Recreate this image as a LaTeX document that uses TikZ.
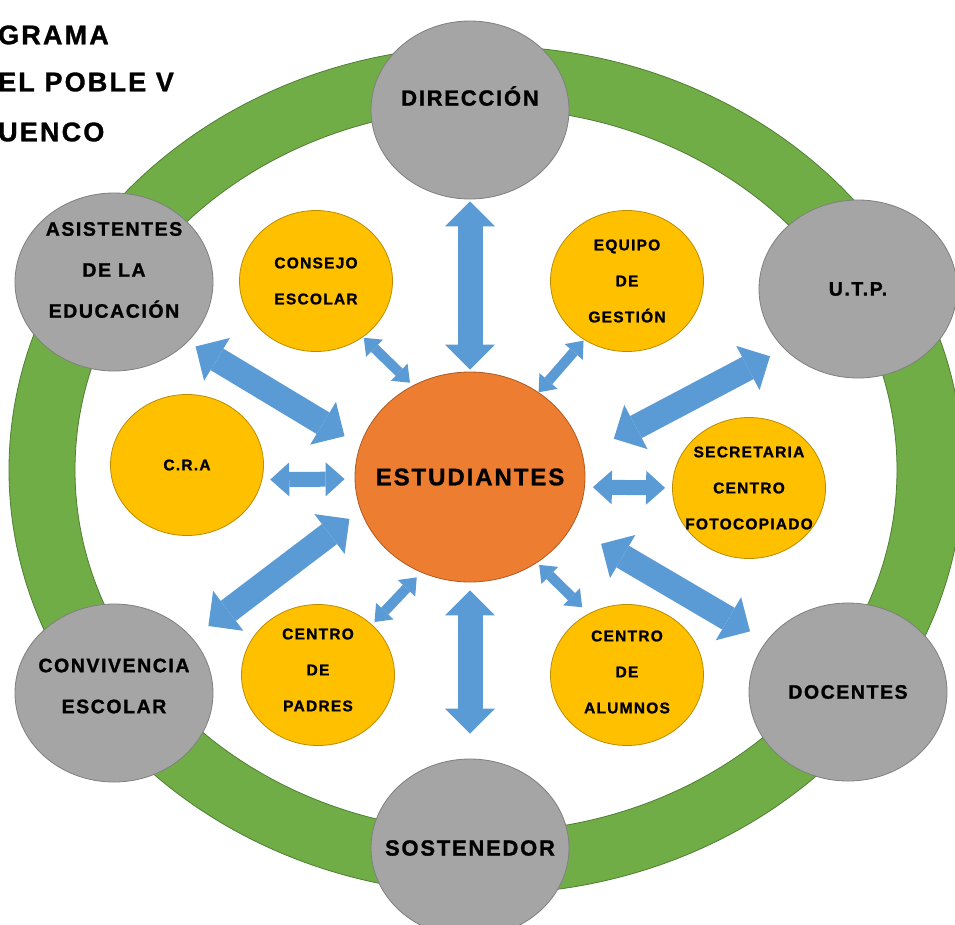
\documentclass[tikz,border=0pt]{standalone}
\usepackage{fontspec}
\usepackage{tikz}
\usetikzlibrary{shapes.geometric}
\usetikzlibrary{arrows.meta}
\newfontfamily\lblfont{Liberation Sans}[LetterSpace=8, UprightFont={* Bold}, FakeBold=1.2]
\definecolor{ringgreen}{HTML}{70AD47}
\definecolor{ringedge}{HTML}{507E32}
\definecolor{grayfill}{HTML}{A5A5A5}
\definecolor{grayedge}{HTML}{7F7F7F}
\definecolor{yellowfill}{HTML}{FFC000}
\definecolor{yellowedge}{HTML}{BC8C00}
\definecolor{orangefill}{HTML}{ED7D31}
\definecolor{orangeedge}{HTML}{AE5A21}
\definecolor{arrowblue}{HTML}{5B9BD5}
\tikzset{
  ringband/.style={fill=ringgreen, draw=ringedge, line width=0.8pt, even odd rule},
  grayunit/.style={ellipse, fill=grayfill, draw=grayedge, line width=0.8pt, minimum width=198pt, minimum height=178pt, inner sep=0pt},
  yellowunit/.style={ellipse, fill=yellowfill, draw=yellowedge, line width=0.8pt, minimum width=153pt, minimum height=141pt, inner sep=0pt},
  centerunit/.style={ellipse, fill=orangefill, draw=orangeedge, line width=0.8pt, minimum width=230pt, minimum height=210pt, inner sep=0pt},
  graytxt/.style={font=\lblfont\fontsize{19.5}{41}\selectfont, align=center},
  largetxt/.style={font=\lblfont\fontsize{22}{41}\selectfont, align=center},
  yellowtxt/.style={font=\lblfont\fontsize{15.5}{36}\selectfont, align=center},
  centertxt/.style={font=\lblfont\fontsize{24}{30}\selectfont, align=center},
  titletxt/.style={font=\lblfont\fontsize{27}{30}\selectfont, anchor=west, inner sep=0pt},
  blockarrow/.style n args={3}{draw=arrowblue, line width=#1,
    arrows={Triangle[length=#3, width=#2, line width=0pt]-Triangle[length=#3, width=#2, line width=0pt]}},
  bigarrow/.style={blockarrow={25pt}{50pt}{25pt}},
  midarrow/.style={blockarrow={15pt}{34pt}{19pt}},
  smallarrow/.style={blockarrow={10pt}{24pt}{15pt}}
}
\begin{document}
\begin{tikzpicture}[x=1pt, y=-1pt]
    \fill[white] (0, 0) rectangle (955, 924);
    \useasboundingbox (0, 0) rectangle (955, 924);
    \path[ringband] (486, 470) ellipse [x radius=477, y radius=424] (486, 470) ellipse [x radius=411, y radius=362];

    \node[titletxt] (title1) at (-2, 35) {GRAMA};
    \node[titletxt] (title2) at (-2, 82) {EL POBLE V};
    \node[titletxt] (title3) at (-2, 132) {UENCO};

    \node[grayunit, label={[largetxt, yshift=14pt]center:DIRECCIÓN}] (dir) at (470, 110) {};
    \node[grayunit, label={[graytxt]center:U.T.P.}] (utp) at (858, 289) {};
    \node[grayunit, label={[graytxt]center:DOCENTES}] (doc) at (848, 692) {};
    \node[grayunit, label={[largetxt]center:SOSTENEDOR}] (sos) at (470, 848) {};
    \node[grayunit, label={[graytxt, yshift=7pt]center:CONVIVENCIA\\ESCOLAR}] (conv) at (114, 693) {};
    \node[grayunit, label={[graytxt, yshift=12pt]center:ASISTENTES\\DE LA\\EDUCACIÓN}] (asis) at (114, 282) {};

    \node[yellowunit, label={[yellowtxt]center:CONSEJO\\ESCOLAR}] (consejo) at (316, 281) {};
    \node[yellowunit, label={[yellowtxt]center:EQUIPO\\DE\\GESTIÓN}] (equipo) at (627, 281) {};
    \node[yellowunit, label={[yellowtxt]center:C.R.A}] (cra) at (187, 465) {};
    \node[yellowunit, label={[yellowtxt]center:SECRETARIA\\CENTRO\\FOTOCOPIADO}] (secre) at (749, 488) {};
    \node[yellowunit, label={[yellowtxt, yshift=5pt]center:CENTRO\\DE\\PADRES}] (padres) at (318, 675) {};
    \node[yellowunit, label={[yellowtxt, yshift=3pt]center:CENTRO\\DE\\ALUMNOS}] (alumnos) at (627, 675) {};

    \node[centerunit, label={[centertxt]center:ESTUDIANTES}] (est) at (470, 477) {};

    \draw[bigarrow, shorten <=2pt, shorten >=2pt] (dir.south) -- (est.north);
    \draw[bigarrow, shorten <=25pt, shorten >=8pt] (sos.north) -- (est.south);
    \draw[bigarrow, shorten <=9pt, shorten >=18pt] (asis.-39.4) -- (est.164.3);
    \draw[bigarrow, shorten <=16pt, shorten >=35pt] (utp.-141.5) -- (est.11.4);
    \draw[bigarrow, shorten <=20pt, shorten >=14pt] (conv.35.7) -- (est.197.7);
    \draw[bigarrow, shorten <=19pt, shorten >=34pt] (doc.148.3) -- (est.-26.8);
    \draw[smallarrow, shorten <=1pt, shorten >=4pt] (consejo.-50.6) -- (est.122);
    \draw[smallarrow, shorten <=1pt] (equipo.-126.6) -- (est.51);
    \draw[midarrow, shorten <=8pt, shorten >=10pt] (cra.-11.3) -- (est.181.5);
    \draw[midarrow, shorten <=7pt, shorten >=8pt] (secre.180) -- (est.-5.5);
    \draw[smallarrow, shorten <=3.5pt, shorten >=6.6pt] (padres.43.9) -- (est.-117);
    \draw[smallarrow, shorten <=9pt, shorten >=3pt] (alumnos.122.4) -- (est.-52.5);
\end{tikzpicture}
\end{document}
